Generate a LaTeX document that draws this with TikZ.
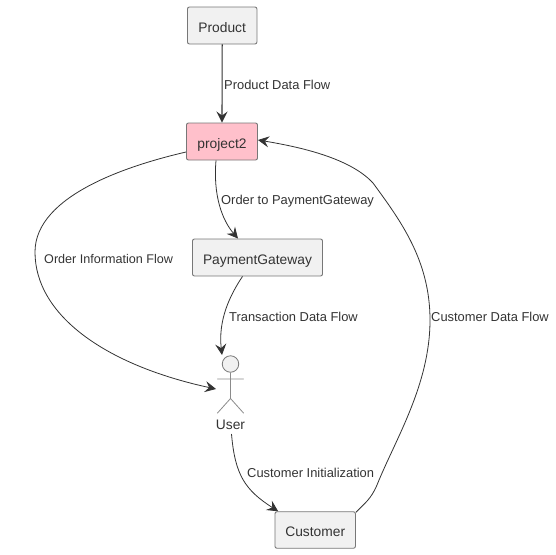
\documentclass[tikz,border=0pt]{standalone}
\usepackage{fontspec}
\setmainfont{Liberation Sans}
\usetikzlibrary{arrows.meta}
\definecolor{ink}{HTML}{333333}
\definecolor{boxfill}{HTML}{F1F1F1}
\definecolor{boxline}{HTML}{777777}
\definecolor{pinkfill}{HTML}{FFC0CB}
\tikzset{
  box/.style={draw=boxline,fill=boxfill,rounded corners=2pt,line width=0.9pt,minimum height=37pt,inner sep=0pt,text=ink,text height=13.4pt,text depth=0pt,font=\fontsize{13.8}{15}\selectfont},
  elabel/.style={text=ink,font=\fontsize{12.9}{15}\selectfont,inner sep=0pt,anchor=west},
  flow/.style={draw=ink,line width=0.8pt,-{Stealth[length=11pt,width=11pt,inset=4pt]}},
  limb/.style={draw=boxline!85!white,line width=0.8pt,line cap=round}
}
\begin{document}
\begin{tikzpicture}[x=1pt,y=-1pt]
\useasboundingbox (0,0) rectangle (556,554);
\node[box,minimum width=69.5pt] (product) at (222.2,25.5) {Product};
\node[box,minimum width=71pt,fill=pinkfill] (project) at (222,141.5) {project2};
\node[box,minimum width=130pt] (gateway) at (257.5,257.5) {PaymentGateway};
\node[box,minimum width=80.5pt,minimum height=36.5pt] (customer) at (315.2,530) {Customer};
\node[draw=boxline,fill=boxfill,circle,minimum size=16.5pt,inner sep=0pt,line width=0.8pt] (head) at (230.5,364) {};
\coordinate (hip) at (230.5,398.5);
\coordinate (armL) at (217.5,379);
\coordinate (armR) at (243.5,379);
\coordinate (footL) at (217.5,413);
\coordinate (footR) at (243.5,413);
\draw[limb] (head.south) -- (hip) (armL) -- (armR) (footL) -- (hip) -- (footR);
\node[text=ink,font=\fontsize{13.8}{15}\selectfont,inner sep=0pt] (user) at (230.5,425) {User};
\coordinate (userhit) at (216,389);
\coordinate (userin) at (222,355);
\coordinate (userout) at (231.5,434);
\draw[flow,line width=1.1pt] (product.south) -- (project.north);
\draw[flow] ([xshift=-6pt]project.south) .. controls (213,195) and (222,220) .. ([xshift=-19.5pt]gateway.north);
\draw[flow] ([yshift=-10.5pt]project.west) .. controls (130,165) and (35,195) .. (35,252) .. controls (35,315) and (105,365) .. (userhit);
\draw[flow] ([xshift=-15pt]gateway.south) .. controls (230,295) and (218,320) .. (userin);
\draw[flow] (userout) .. controls (235,475) and (245,490) .. ([xshift=-37pt]customer.north);
\draw[flow] ([yshift=-1pt]customer.north east) .. controls (365,503) and (371,499) .. (377,485) .. controls (395,440) and (430,385) .. (430,320) .. controls (430,260) and (400,220) .. (373,183) .. controls (350,158) and (300,147) .. ([yshift=1.5pt]project.east);
\node[elabel] (l1) at (224,84.5) {Product Data Flow};
\node[elabel] (l2) at (221,201) {Order to PaymentGateway};
\node[elabel,font=\fontsize{12.6}{15}\selectfont] (l3) at (44,258.5) {Order Information Flow};
\node[elabel] (l4) at (229,316.5) {Transaction Data Flow};
\node[elabel] (l5) at (431,316.5) {Customer Data Flow};
\node[elabel] (l6) at (247,472.5) {Customer Initialization};
\end{tikzpicture}
\end{document}
